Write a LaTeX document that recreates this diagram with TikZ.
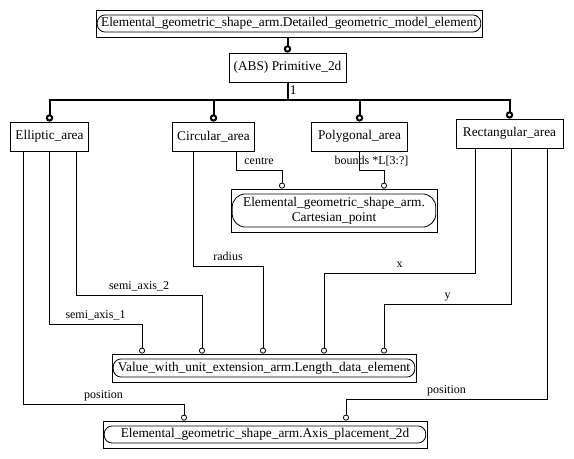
\documentclass[tikz,border=0pt]{standalone}
\usepackage{fontspec}
\setmainfont{Liberation Serif}
\usetikzlibrary{arrows.meta}

\tikzset{
  ent/.style={draw,line width=0.6pt,inner sep=0pt,align=center,font=\fontsize{10}{11.5}\selectfont},
  lbl/.style={inner sep=1pt,text height=6.5pt,text depth=2pt,font=\fontsize{9}{10}\selectfont},
  link/.style={line width=0.6pt,-{Circle[open,length=4.5pt,width=4.5pt]}},
  bus/.style={line width=1.5pt},
  tlink/.style={bus,-{Circle[open,length=5.5pt,width=5.5pt]}},
}
\newcommand{\selframe}[2]{\draw [line width=0.6pt,rounded corners=#2] ([xshift=1.2pt,yshift=-4pt]#1.north west) rectangle ([xshift=-1.2pt,yshift=4pt]#1.south east);}

\begin{document}
\begin{tikzpicture}[x=0.75pt,y=-0.75pt]
\useasboundingbox (0,0) rectangle (574,458);

\node (Dme) at (289,23.5)[ent,minimum width=289.5pt,minimum height=20.25pt] {Elemental\_geometric\_shape\_arm.Detailed\_geometric\_model\_element};
\selframe{Dme}{6pt}
\node (Prim) at (287.5,67.5)[ent,minimum width=87.75pt,minimum height=21.75pt] {(ABS) Primitive\_2d};
\node (Ell) at (49.5,136.5)[ent,minimum width=58.5pt,minimum height=21.75pt] {Elliptic\_area};
\node (Circ) at (213.5,136.5)[ent,minimum width=61.5pt,minimum height=21.75pt] {Circular\_area};
\node (Poly) at (359.5,136.5)[ent,minimum width=72pt,minimum height=21.75pt] {Polygonal\_area};
\node (Rect) at (509.5,133.5)[ent,minimum width=80.25pt,minimum height=21.75pt] {Rectangular\_area};
\node (Cart) at (334,210.5)[ent,minimum width=154.5pt,minimum height=32.25pt] {Elemental\_geometric\_shape\_arm.\\Cartesian\_point};
\selframe{Cart}{10pt}
\node (Len) at (264,368)[ent,minimum width=228pt,minimum height=21pt] {Value\_with\_unit\_extension\_arm.Length\_data\_element};
\selframe{Len}{6pt}
\node (Axis) at (265,434.5)[ent,minimum width=243pt,minimum height=20.25pt] {Elemental\_geometric\_shape\_arm.Axis\_placement\_2d};
\selframe{Axis}{6pt}

\coordinate (J) at (287.5,100);
\draw [tlink] (Dme.south -| Prim.north) -- (Prim.north);
\draw [bus] (Prim.south) -- (J) node[lbl,midway,right,font=\fontsize{10}{11}\selectfont] {1};
\draw [tlink] (J) -| (Ell.north);
\draw [tlink] (J) -| (Circ.north);
\draw [tlink] (J) -| (Poly.north);
\draw [tlink] (J) -| (Rect.north);

\draw [link] (Circ.south -| 236,0) |- (282,170) node[lbl,pos=0.75,above=1pt] {centre} -- (Cart.north -| 282,0);
\draw [link] (Poly.south -| 359,0) |- (384,170) node[lbl,pos=0.75,above=1pt] {bounds *L[3:?]} -- (Cart.north -| 384,0);
\draw [link] (Circ.south -| 193,0) |- (263,266) node[lbl,pos=0.75,above=1pt] {radius} -- (Len.north -| 263,0);
\draw [link] (Ell.south -| 76,0) |- (202,295) node[lbl,pos=0.75,above=1pt] {semi\_axis\_2} -- (Len.north -| 202,0);
\draw [link] (Ell.south -| 49,0) |- (142,324) node[lbl,pos=0.75,above=1pt] {semi\_axis\_1} -- (Len.north -| 142,0);
\draw [link] (Rect.south -| 475,0) |- (324,273) node[lbl,pos=0.75,above=1pt] {x} -- (Len.north -| 324,0);
\draw [link] (Rect.south -| 511,0) |- (384,304) node[lbl,pos=0.75,above=1pt] {y} -- (Len.north -| 384,0);
\draw [link] (Ell.south -| 23,0) |- (184,404) node[lbl,pos=0.75,above=1pt] {position} -- (Axis.north -| 184,0);
\draw [link] (Rect.south -| 547,0) |- (346,399) node[lbl,pos=0.75,above=1pt] {position} -- (Axis.north -| 346,0);
\end{tikzpicture}
\end{document}
